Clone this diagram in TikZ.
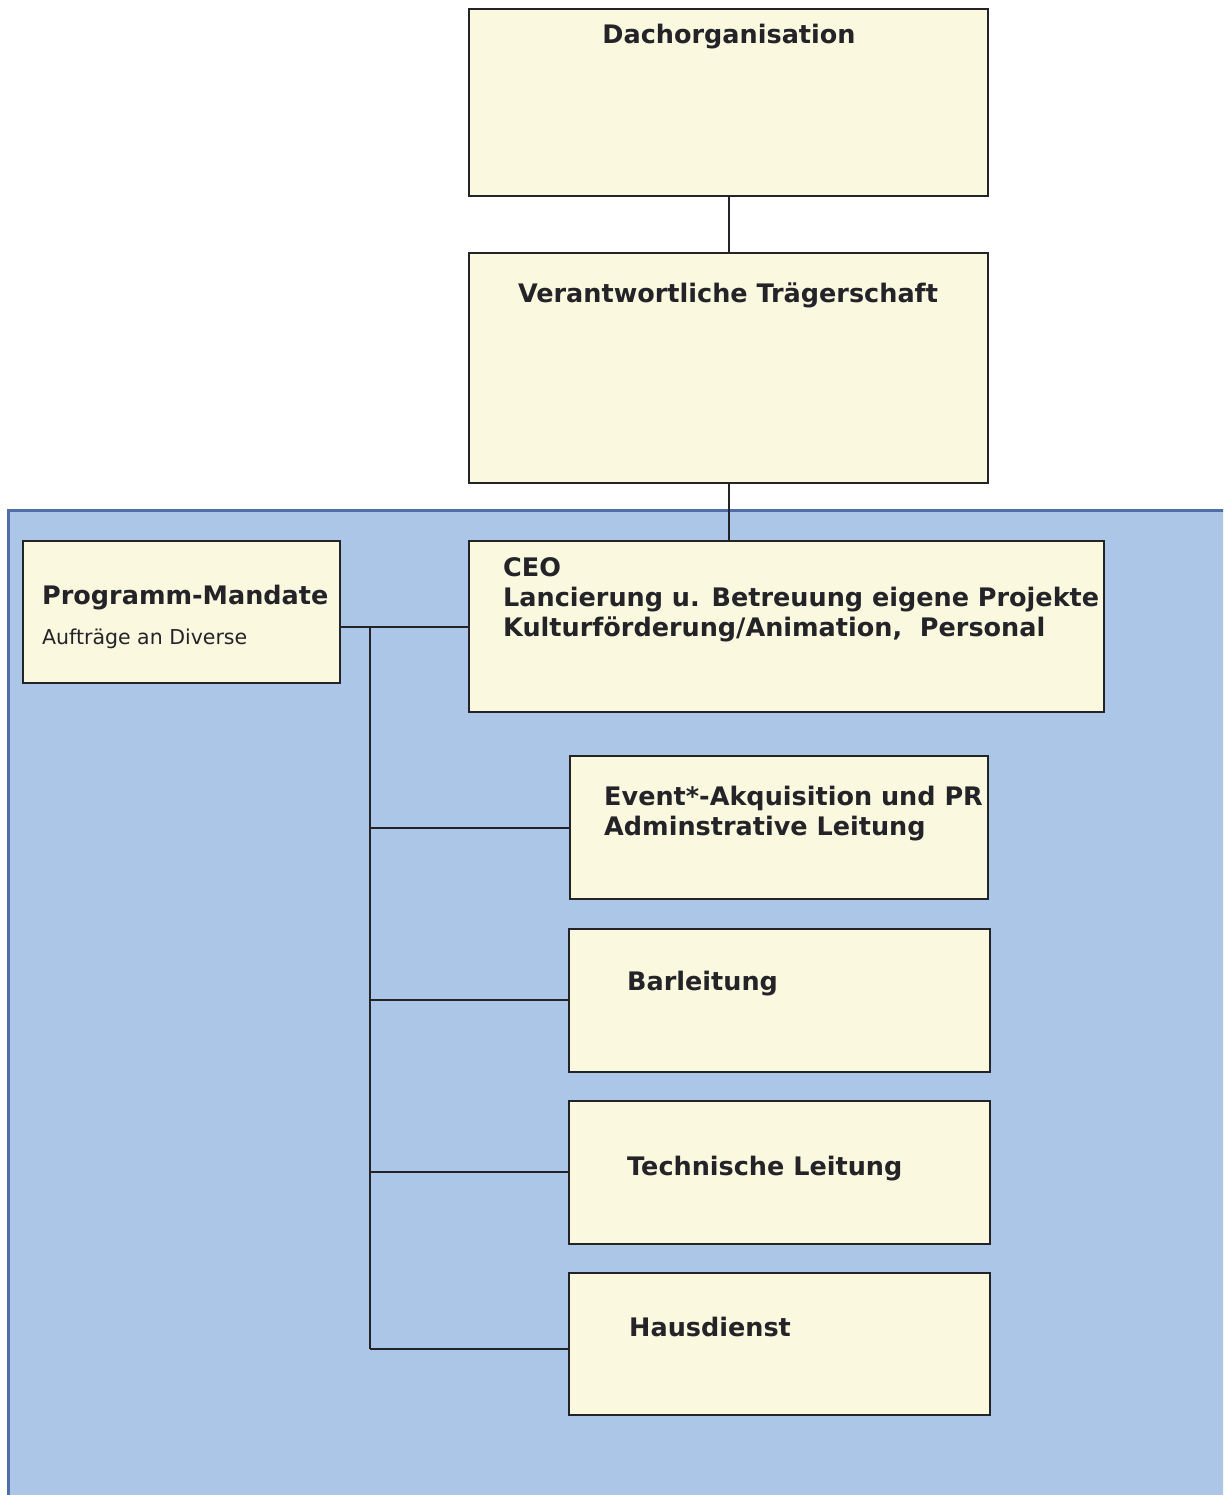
\documentclass[tikz,border=0pt]{standalone}
\usepackage{fontspec}
\setmainfont{DejaVu Sans}
\definecolor{panelblue}{RGB}{172,198,232}
\definecolor{panelborder}{RGB}{80,110,170}
\definecolor{cream}{RGB}{251,248,224}
\definecolor{ink}{RGB}{35,35,40}
\tikzset{
  box/.style={draw=ink, line width=2pt, fill=cream, inner sep=0pt, outer sep=0pt},
  conn/.style={draw=ink, line width=2pt},
  btxt/.style={font=\fontsize{25.5}{30}\selectfont\bfseries, text=ink, inner sep=0pt, anchor=base west},
  ntxt/.style={font=\fontsize{20.5}{24}\selectfont, text=ink, inner sep=0pt, anchor=base west},
}
\begin{document}
\begin{tikzpicture}[x=1pt,y=-1pt]
\useasboundingbox (0,0) rectangle (1223,1495);
\begin{scope}
\clip (0,0) rectangle (1223,1495);
\fill[panelblue] (8,510) rectangle (1230,1500);
\draw[panelborder, line width=3pt] (8,1500) -- (8,510) -- (1230,510);
\end{scope}
% boxes
\node[box, minimum width=519pt, minimum height=187pt] (dach) at (728.5,102.5) {};
\node[box, minimum width=519pt, minimum height=230pt] (traeger) at (728.5,368) {};
\node[box, minimum width=317pt, minimum height=142pt] (prog) at (181.5,612) {};
\node[box, minimum width=635pt, minimum height=171pt] (ceo) at (786.5,626.5) {};
\node[box, minimum width=418pt, minimum height=143pt] (event) at (779,827.5) {};
\node[box, minimum width=421pt, minimum height=143pt] (bar) at (779.5,1000.5) {};
\node[box, minimum width=421pt, minimum height=143pt] (tech) at (779.5,1172.5) {};
\node[box, minimum width=421pt, minimum height=142pt] (haus) at (779.5,1344) {};
% texts
\node[btxt, anchor=base] (tdach) at (729,44) {Dachorganisation};
\node[btxt, anchor=base] (ttraeger) at (728,302) {Verantwortliche Trägerschaft};
\node[btxt] (tprog) at (42,604) {Programm-Mandate};
\node[ntxt] (tprog2) at (42,644) {Aufträge an Diverse};
\node[btxt] (tceo1) at (503,576) {CEO};
\node[btxt] (tceo2) at (503,606) {Lancierung u. Betreuung eigene Projekte};
\node[btxt] (tceo3) at (503,636) {Kulturförderung/Animation,\ \ Personal};
\node[btxt] (tevent1) at (604,805) {Event*-Akquisition und PR};
\node[btxt] (tevent2) at (604,835) {Adminstrative Leitung};
\node[btxt] (tbar) at (627,990) {Barleitung};
\node[btxt] (ttech) at (627,1175) {Technische Leitung};
\node[btxt] (thaus) at (629,1336) {Hausdienst};
% connectors
\coordinate (jtop) at (370,627);
\coordinate (jevent) at (370,828);
\coordinate (jbar) at (370,1000);
\coordinate (jtech) at (370,1172);
\coordinate (jhaus) at (370,1349);
\draw[conn] (dach.south) -- (traeger.north);
\draw[conn] (traeger.south) -- (ceo.north -| traeger.south);
\draw[conn] (prog.east |- jtop) -- (ceo.west |- jtop);
\draw[conn] (jtop) -- (jhaus);
\draw[conn] (jevent) -- (event.west |- jevent);
\draw[conn] (jbar) -- (bar.west |- jbar);
\draw[conn] (jtech) -- (tech.west |- jtech);
\draw[conn] (jhaus) -- (haus.west |- jhaus);
\end{tikzpicture}
\end{document}
